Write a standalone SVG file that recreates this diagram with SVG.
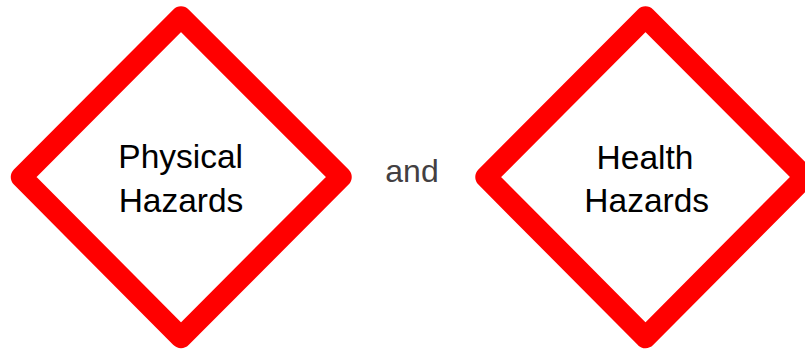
<svg xmlns="http://www.w3.org/2000/svg" width="805" height="352" viewBox="0 0 805 352">
<style>
.dia{fill:#ffffff;stroke:#ff0000;stroke-width:21.5;stroke-linejoin:round}
.lbl{font-family:"Liberation Sans",Arial,sans-serif;font-size:33.5px;fill:#000000;text-anchor:middle}
.and{font-family:"Liberation Sans",Arial,sans-serif;font-size:32px;fill:#433f42;text-anchor:middle}
</style>
<rect width="805" height="352" fill="#ffffff"/>
<g id="physical">
<polygon class="dia" points="181,17 341,177 181,337.5 21.5,177"/>
<text class="lbl" x="180.7" y="168">Physical</text>
<text class="lbl" x="181" y="212">Hazards</text>
</g>
<g id="and">
<text class="and" x="412" y="181.5">and</text>
</g>
<g id="health">
<polygon class="dia" points="645.5,17 805,177 645.5,337.5 486,177"/>
<text class="lbl" x="645" y="168.5">Health</text>
<text class="lbl" x="646.7" y="212">Hazards</text>
</g>
<g id="connectors"/>
</svg>
